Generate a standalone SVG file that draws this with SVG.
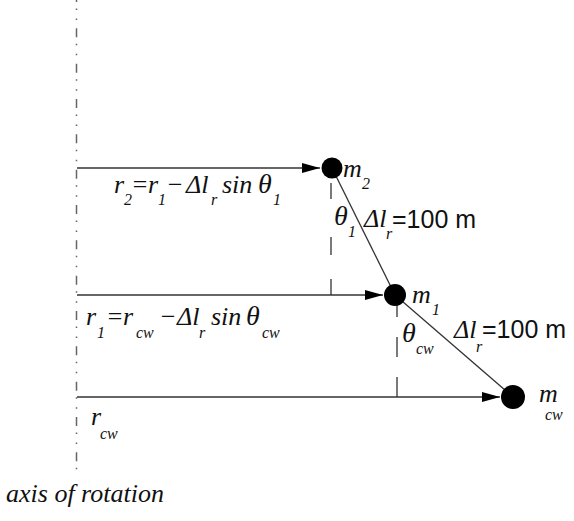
<svg xmlns="http://www.w3.org/2000/svg" width="574" height="521" viewBox="0 0 574 521">
<style>
.ser{font-family:"Liberation Serif","Times New Roman",serif;font-style:italic;fill:#111}
.sans{font-family:"Liberation Sans",Arial,sans-serif;fill:#111;font-size:25px}
.m{font-size:26px}
.t{font-size:28px}
.s{font-size:16px}
.ln{stroke:#333;stroke-width:1.3;fill:none}
.mass{fill:#000}
</style>
<defs>
<marker id="ah" viewBox="0 0 18 10" refX="18" refY="5" markerWidth="18" markerHeight="10" markerUnits="userSpaceOnUse" orient="auto">
<path d="M0,0 L18,5 L0,10 Z" fill="#000"/>
</marker>
</defs>
<rect width="574" height="521" fill="#fff"/>
<g id="axis">
<line x1="76.5" y1="-7" x2="76.5" y2="476" stroke="#666" stroke-width="1.5" stroke-dasharray="9 6.5 1.5 8.5 1.5 8.33"/>
</g>
<g id="connectors">
<line class="ln" x1="77" y1="168" x2="320" y2="168" marker-end="url(#ah)"/>
<line class="ln" x1="77" y1="295" x2="383" y2="295" marker-end="url(#ah)"/>
<line class="ln" x1="77" y1="397" x2="500" y2="397" marker-end="url(#ah)"/>
<line class="ln" x1="332" y1="168" x2="395" y2="295"/>
<line class="ln" x1="395" y1="295" x2="513" y2="397"/>
<path class="ln" d="M331,183 V199 M331,237 V255 M331,279 V295"/>
<path class="ln" d="M397,297 V317 M397,337 V357 M397,377 V397"/>
</g>
<g id="m2">
<circle class="mass" cx="332" cy="168" r="10.5"/>
<text class="ser"><tspan class="m" x="343" y="177">m</tspan><tspan class="s" x="362" y="189">2</tspan></text>
</g>
<g id="m1">
<circle class="mass" cx="395" cy="295" r="11"/>
<text class="ser"><tspan class="m" x="412" y="303">m</tspan><tspan class="s" x="432" y="315">1</tspan></text>
</g>
<g id="mcw">
<circle class="mass" cx="513" cy="397" r="12"/>
<text class="ser"><tspan class="m" x="539" y="402">m</tspan><tspan class="s" x="545" y="420">cw</tspan></text>
</g>
<g id="labels">
<text class="ser"><tspan class="m" x="114" y="193">r</tspan><tspan class="s" x="124" y="205">2</tspan><tspan class="m" x="131" y="193">=</tspan><tspan class="m" x="148" y="193">r</tspan><tspan class="s" x="158" y="205">1</tspan><tspan class="m" x="166" y="193">−</tspan><tspan class="m" x="186" y="193">Δl</tspan><tspan class="s" x="211" y="205">r</tspan><tspan class="m" x="222" y="193">sin</tspan><tspan class="t" x="258" y="193">θ</tspan><tspan class="s" x="273" y="205">1</tspan></text>
<text class="ser"><tspan class="t" x="334" y="225">θ</tspan><tspan class="s" x="348" y="237">1</tspan></text>
<text><tspan class="ser m" x="364" y="227">Δl</tspan><tspan class="ser s" x="386" y="239">r</tspan><tspan class="sans" x="392" y="228">=100 m</tspan></text>
<text class="ser"><tspan class="m" x="86" y="325">r</tspan><tspan class="s" x="97" y="338">1</tspan><tspan class="m" x="106" y="325">=</tspan><tspan class="m" x="123" y="325">r</tspan><tspan class="s" x="136" y="338">cw</tspan><tspan class="m" x="159" y="325">−</tspan><tspan class="m" x="177" y="325">Δl</tspan><tspan class="s" x="199" y="338">r</tspan><tspan class="m" x="211" y="325">sin</tspan><tspan class="t" x="246" y="325">θ</tspan><tspan class="s" x="262" y="338">cw</tspan></text>
<text class="ser"><tspan class="t" x="402" y="342">θ</tspan><tspan class="s" x="416" y="354">cw</tspan></text>
<text><tspan class="ser m" x="454" y="338">Δl</tspan><tspan class="ser s" x="476" y="352">r</tspan><tspan class="sans" x="482" y="338">=100 m</tspan></text>
<text class="ser"><tspan class="m" x="91" y="425">r</tspan><tspan class="s" x="100" y="439">cw</tspan></text>
<text class="ser" font-size="26" x="6" y="502">axis of rotation</text>
</g>
</svg>
